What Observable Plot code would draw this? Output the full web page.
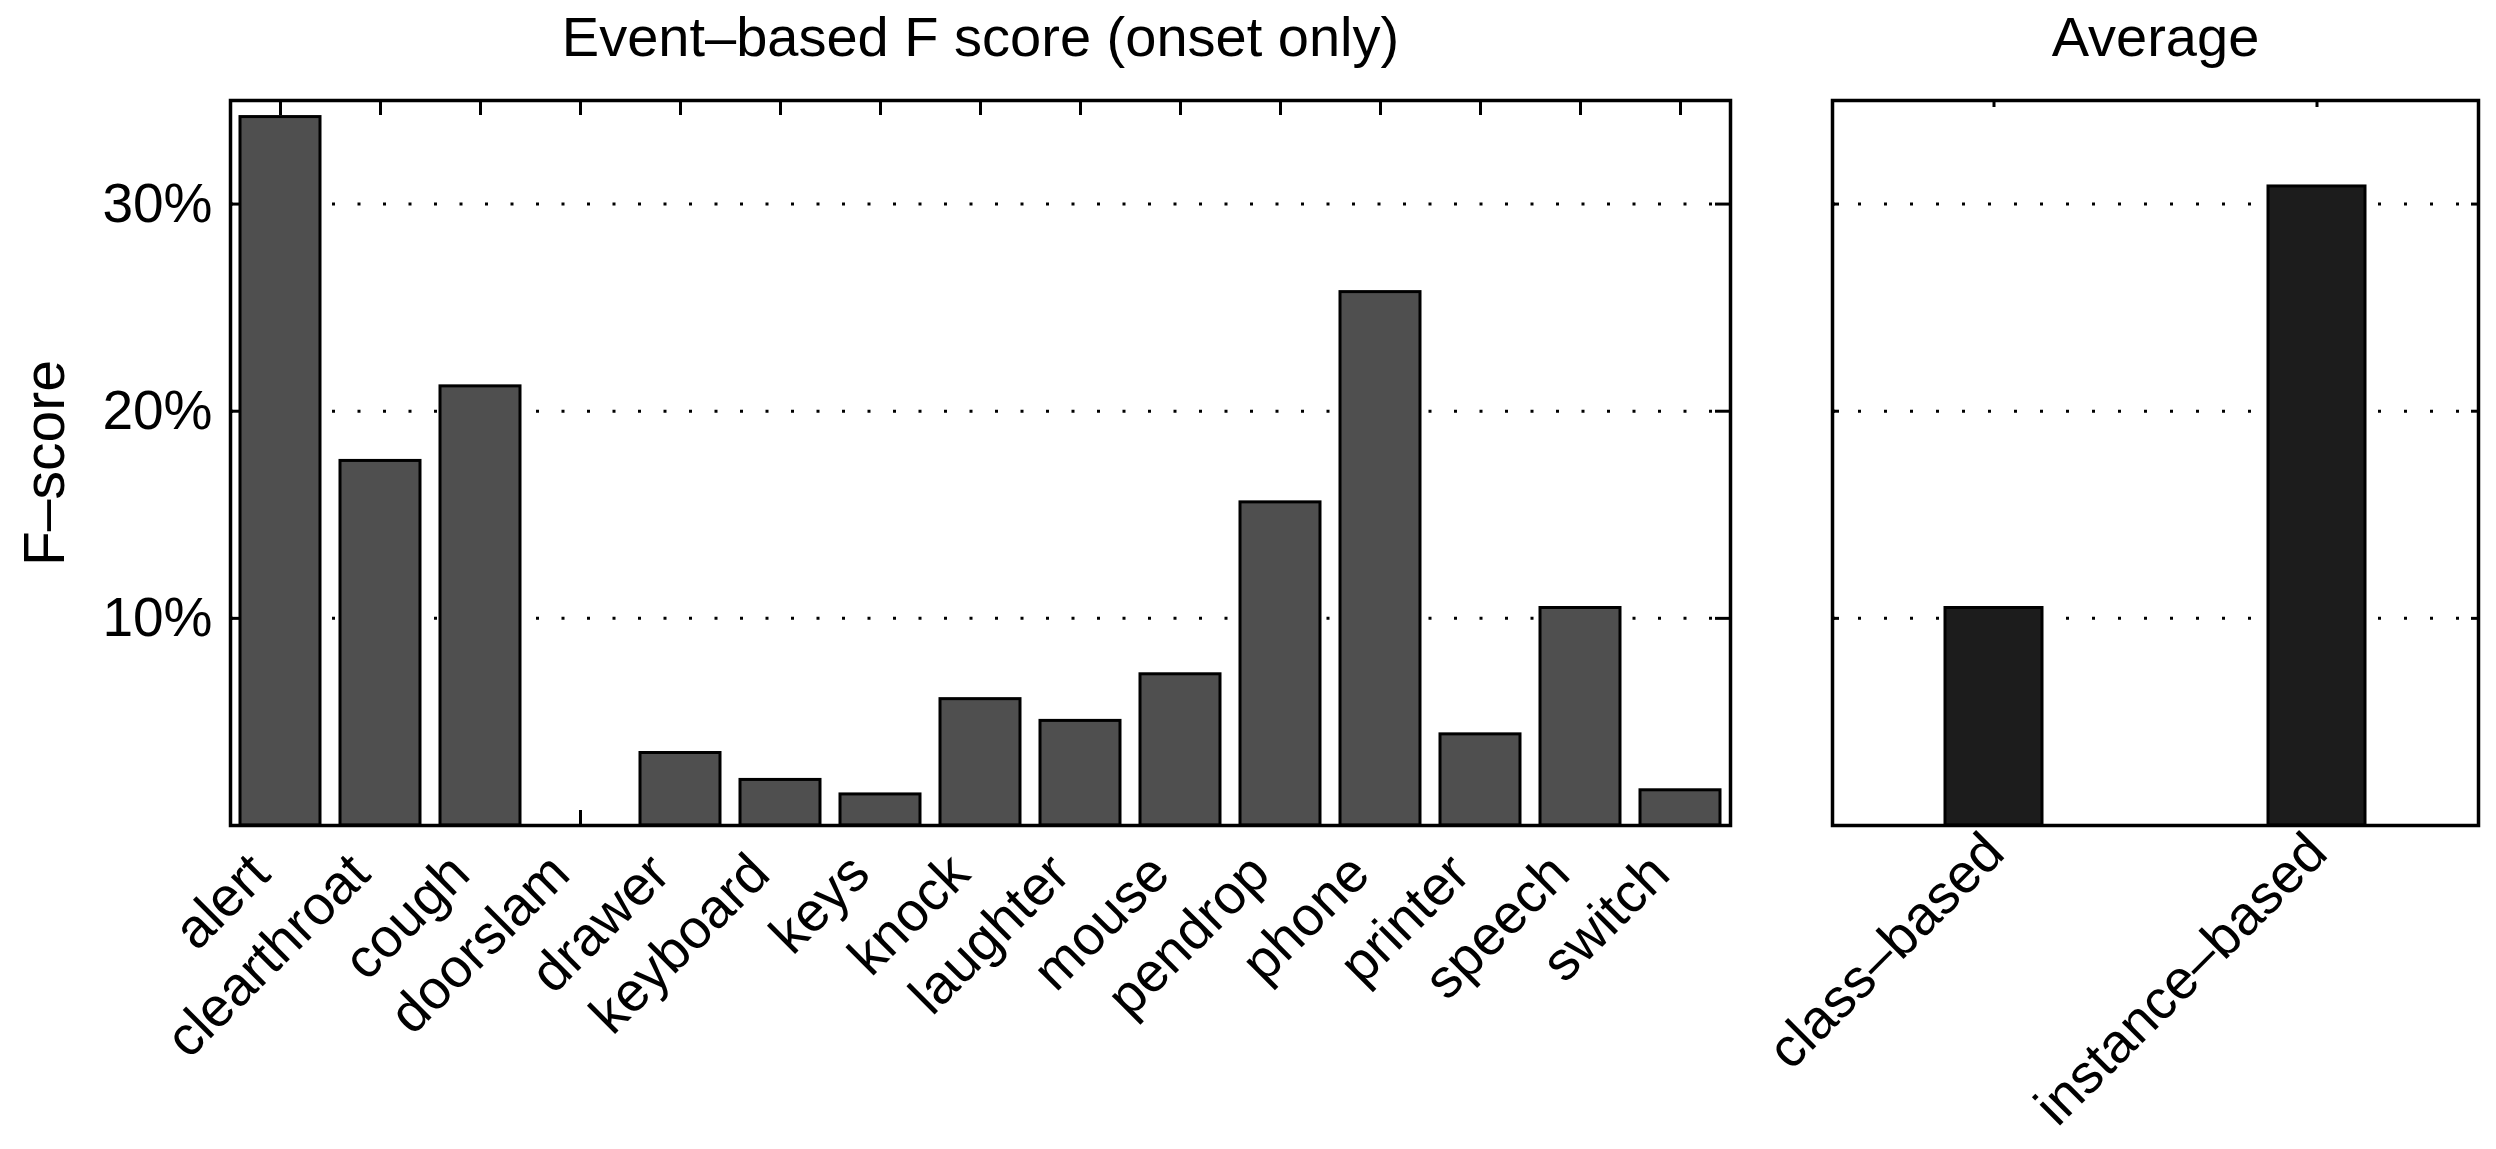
<!DOCTYPE html>
<html>
<head>
<meta charset="utf-8">
<script src="https://cdn.jsdelivr.net/npm/d3@7"></script>
<script src="https://cdn.jsdelivr.net/npm/@observablehq/plot@0.6"></script>
<style>
  html, body { margin: 0; padding: 0; background: #fff; }
  #wrap { position: relative; width: 2496px; height: 1149px; overflow: hidden; background: #fff; }
  #wrap svg { position: absolute; top: 0; overflow: visible; }
</style>
</head>
<body>
<div id="wrap"></div>
<script>
// ---- data ----
const categories = ["alert", "clearthroat", "cough", "doorslam", "drawer", "keyboard", "keys", "knock",
                    "laughter", "mouse", "pendrop", "phone", "printer", "speech", "switch"];
const fScores = [34.2, 17.6, 21.2, 0, 3.5, 2.2, 1.5, 6.1, 5.05, 7.3, 15.6, 25.75, 4.4, 10.5, 1.7];
const avgCategories = ["class–based", "instance–based"];
const avgScores = [10.5, 30.85];
const yTicks = [10, 20, 30];
const mainTitle = "Event–based F score (onset only)";
const avgTitle = "Average";
const yLabel = "F–score";

// ---- layout ----
const FONT = "'Liberation Sans', Arial, Helvetica, sans-serif";
const H = 1149, TOP = 100, BOTTOM = 324;
const plotH = H - TOP - BOTTOM;
const LW = 1760, LML = 230, LMR = 30, LPW = LW - LML - LMR;
const RX = 1740, RW = 756, RML = 92, RMR = 18, RPW = RW - RML - RMR;

const style = {fontFamily: FONT, fontSize: "55px", color: "black", background: "transparent", overflow: "visible"};

const leftData = categories.map((c, i) => ({category: c, value: fScores[i]}));
const rightData = avgCategories.map((c, i) => ({category: c, value: avgScores[i]}));

const left = Plot.plot({
  width: LW, height: H,
  marginLeft: LML, marginRight: LMR, marginTop: TOP, marginBottom: BOTTOM,
  style,
  x: {domain: categories, paddingInner: 0.2, paddingOuter: 0.1, align: 0.5},
  y: {domain: [0, 35]},
  marks: [
    Plot.ruleY(yTicks, {stroke: "black", strokeWidth: 3, strokeDasharray: "3,22.5"}),
    Plot.tickY(yTicks, {insetRight: LPW - 15, stroke: "black", strokeWidth: 3}),
    Plot.tickY(yTicks, {insetLeft: LPW - 15, stroke: "black", strokeWidth: 3}),
    Plot.tickX(categories, {x: d => d, insetBottom: plotH - 15, stroke: "black", strokeWidth: 3}),
    Plot.tickX(categories, {x: d => d, insetTop: plotH - 15, stroke: "black", strokeWidth: 3}),
    Plot.barY(leftData, {x: "category", y: "value", fill: "#4f4f4f", stroke: "black", strokeWidth: 3}),
    Plot.frame({stroke: "black", strokeWidth: 3.5}),
    Plot.axisY(yTicks, {tickSize: 0, tickPadding: 18, tickFormat: d => d + "%", fontSize: 55, label: null}),
    Plot.axisX({tickSize: 0, tickPadding: 51, dx: -8, tickRotate: -45, textAnchor: "end", lineAnchor: "bottom",
                fontSize: 55, label: null}),
    Plot.text([mainTitle], {frameAnchor: "top", dy: -45, lineAnchor: "bottom", fontSize: 56}),
    Plot.text([yLabel], {frameAnchor: "left", dx: -167, rotate: -90, textAnchor: "middle", lineAnchor: "bottom", fontSize: 57})
  ]
});

const right = Plot.plot({
  width: RW, height: H,
  marginLeft: RML, marginRight: RMR, marginTop: TOP, marginBottom: BOTTOM,
  style,
  x: {domain: avgCategories, paddingInner: 0.7, paddingOuter: 0.35, align: 0.5},
  y: {domain: [0, 35]},
  marks: [
    Plot.ruleY(yTicks, {stroke: "black", strokeWidth: 3, strokeDasharray: "3,23"}),
    Plot.tickY(yTicks, {insetRight: RPW - 7, stroke: "black", strokeWidth: 3}),
    Plot.tickY(yTicks, {insetLeft: RPW - 7, stroke: "black", strokeWidth: 3}),
    Plot.tickX(avgCategories, {x: d => d, insetBottom: plotH - 7, stroke: "black", strokeWidth: 3}),
    Plot.tickX(avgCategories, {x: d => d, insetTop: plotH - 7, stroke: "black", strokeWidth: 3}),
    Plot.barY(rightData, {x: "category", y: "value", fill: "#1c1c1c", stroke: "black", strokeWidth: 3}),
    Plot.frame({stroke: "black", strokeWidth: 3.5}),
    Plot.axisY({ticks: [], tickSize: 0, label: null}),
    Plot.axisX({tickSize: 0, tickPadding: 30, dx: 13, tickRotate: -45, textAnchor: "end", lineAnchor: "bottom",
                fontSize: 55, label: null}),
    Plot.text([avgTitle], {frameAnchor: "top", dy: -45, lineAnchor: "bottom", fontSize: 56})
  ]
});

left.style.left = "0px";
right.style.left = RX + "px";
const wrap = document.getElementById("wrap");
wrap.appendChild(left);
wrap.appendChild(right);
</script>
</body>
</html>
